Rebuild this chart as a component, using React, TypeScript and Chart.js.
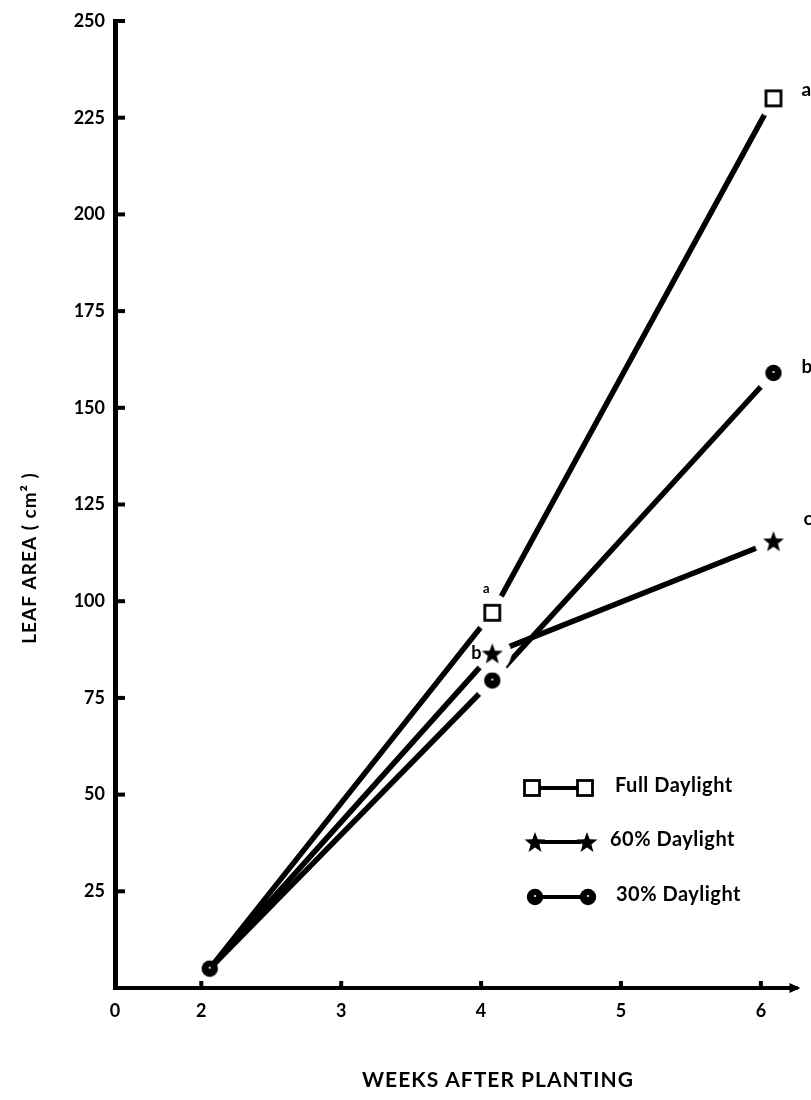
import React, { useEffect, useRef } from "react";
import { Chart, registerables } from "chart.js";

Chart.register(...registerables);

// ---------- data ----------
const weeks = [2.06, 4.08, 6.09];
const fullDaylight = [5, 97, 230];
const daylight60 = [5, 86.5, 115.5];
const daylight30 = [5, 79.5, 159];
const seriesNames = ["Full Daylight", "60% Daylight", "30% Daylight"];
const lettersAt6 = ["a", "c", "b"];
const lettersAt4 = ["a", "b", ""];
const xTickValues = [1.383, 2, 3, 4, 5, 6];
const xTickLabels = ["0", "2", "3", "4", "5", "6"];
const yTickValues = [0, 25, 50, 75, 100, 125, 150, 175, 200, 225, 250];
const yTickLabels = ["", "25", "50", "75", "100", "125", "150", "175", "200", "225", "250"];
const xTitle = "WEEKS AFTER PLANTING";
const yTitle = "LEAF AREA ( cm² )";

type Kind = "square" | "star" | "circle";

function makeMarker(kind: Kind, halo: boolean): HTMLCanvasElement {
  const size = 44;
  const c = size / 2;
  const cv = document.createElement("canvas");
  cv.width = size;
  cv.height = size;
  const ctx = cv.getContext("2d")!;
  if (halo) {
    ctx.fillStyle = "#fff";
    ctx.beginPath();
    ctx.arc(c, c, 19, 0, Math.PI * 2);
    ctx.fill();
  }
  ctx.fillStyle = "#000";
  ctx.strokeStyle = "#000";
  if (kind === "square") {
    ctx.fillStyle = "#fff";
    ctx.fillRect(c - 8, c - 8, 16, 16);
    ctx.lineWidth = 2.8;
    ctx.strokeRect(c - 7.5, c - 7.5, 15, 15);
  } else if (kind === "star") {
    const R = 11;
    const r = 4.6;
    ctx.beginPath();
    for (let i = 0; i < 10; i++) {
      const rad = i % 2 === 0 ? R : r;
      const a = -Math.PI / 2 + (i * Math.PI) / 5;
      const px = c + rad * Math.cos(a);
      const py = c + 1 + rad * Math.sin(a);
      if (i === 0) ctx.moveTo(px, py);
      else ctx.lineTo(px, py);
    }
    ctx.closePath();
    ctx.fill();
  } else {
    ctx.beginPath();
    ctx.arc(c, c, 8.2, 0, Math.PI * 2);
    ctx.fill();
    ctx.fillStyle = "#fff";
    ctx.beginPath();
    ctx.arc(c, c - 1, 1.1, 0, Math.PI * 2);
    ctx.fill();
  }
  return cv;
}

export default function App() {
  const ref = useRef<HTMLCanvasElement | null>(null);

  useEffect(() => {
    if (!ref.current) return;
    const kinds: Kind[] = ["square", "star", "circle"];
    const markers = kinds.map((k) => makeMarker(k, true));
    const startMarker = makeMarker("circle", false);
    const legendMarkers = kinds.map((k) => makeMarker(k, false));
    const seriesValues = [fullDaylight, daylight60, daylight30];

    const decor = {
      id: "decor",
      afterDraw(chart: any) {
        const ctx = chart.ctx as CanvasRenderingContext2D;
        const xs = chart.scales.x;
        const ys = chart.scales.y;
        const area = chart.chartArea;
        ctx.save();
        ctx.strokeStyle = "#000";
        ctx.fillStyle = "#000";
        // inner y ticks
        ctx.lineWidth = 4;
        yTickValues.forEach((v) => {
          if (v === 0) return;
          const py = ys.getPixelForValue(v);
          ctx.beginPath();
          ctx.moveTo(area.left, py);
          ctx.lineTo(area.left + 10, py);
          ctx.stroke();
        });
        // x ticks (upward)
        xTickValues.forEach((v, i) => {
          if (i === 0) return;
          const px = xs.getPixelForValue(v);
          ctx.beginPath();
          ctx.moveTo(px, area.bottom);
          ctx.lineTo(px, area.bottom - 7);
          ctx.stroke();
        });
        // arrow at end of x axis
        ctx.beginPath();
        ctx.moveTo(area.right + 3, area.bottom);
        ctx.lineTo(area.right - 8, area.bottom - 5);
        ctx.lineTo(area.right - 8, area.bottom + 5);
        ctx.closePath();
        ctx.fill();

        // point letters
        ctx.font = "bold 19px Lato";
        ctx.textAlign = "left";
        ctx.textBaseline = "middle";
        const offs6 = [
          [28, -8],
          [30, -22],
          [28, -6],
        ];
        seriesValues.forEach((vals, i) => {
          const px = xs.getPixelForValue(weeks[2]);
          const py = ys.getPixelForValue(vals[2]);
          ctx.fillText(lettersAt6[i], px + offs6[i][0], py + offs6[i][1]);
        });
        ctx.textAlign = "center";
        const offs4 = [
          [-6, -24],
          [-16, 0],
          [0, 0],
        ];
        seriesValues.forEach((vals, i) => {
          if (!lettersAt4[i]) return;
          const px = xs.getPixelForValue(weeks[1]);
          const py = ys.getPixelForValue(vals[1]);
          if (i === 0) ctx.font = "bold 13px Lato";
          else ctx.font = "bold 18px Lato";
          ctx.fillText(lettersAt4[i], px + offs4[i][0], py + offs4[i][1]);
        });

        // start point (shared by all series) on top of the converging lines
        const sx = xs.getPixelForValue(weeks[0]);
        const sy = ys.getPixelForValue(daylight30[0]);
        ctx.drawImage(startMarker, sx - startMarker.width / 2, sy - startMarker.height / 2);

        // legend
        const legendRows = [
          { y: 788, m1: 532, m2: 585, tx: 615 },
          { y: 842, m1: 535, m2: 587, tx: 610 },
          { y: 897, m1: 535, m2: 588, tx: 616 },
        ];
        legendRows.forEach((row, i) => {
          ctx.lineWidth = 4;
          ctx.beginPath();
          ctx.moveTo(row.m1 + 6, row.y);
          ctx.lineTo(row.m2 - 6, row.y);
          ctx.stroke();
          const mk = legendMarkers[i];
          ctx.drawImage(mk, row.m1 - mk.width / 2, row.y - mk.height / 2);
          ctx.drawImage(mk, row.m2 - mk.width / 2, row.y - mk.height / 2);
          ctx.font = "bold 20px Lato";
          ctx.textAlign = "left";
          ctx.textBaseline = "middle";
          (ctx as any).letterSpacing = "0.5px";
          ctx.fillText(seriesNames[i], row.tx, row.y - 2);
          (ctx as any).letterSpacing = "0px";
        });

        // axis titles
        ctx.font = "bold 21px Lato";
        ctx.textAlign = "center";
        ctx.textBaseline = "alphabetic";
        (ctx as any).letterSpacing = "1px";
        ctx.fillText(xTitle, 498, 1087);
        ctx.save();
        ctx.translate(30, 558);
        ctx.rotate(-Math.PI / 2);
        ctx.textBaseline = "middle";
        ctx.font = "bold 19px Lato";
        (ctx as any).letterSpacing = "1px";
        ctx.fillText(yTitle, 0, 0);
        ctx.restore();
        ctx.restore();
      },
    };

    const mkData = (vals: number[]) => weeks.map((w, i) => ({ x: w, y: vals[i] }));

    const chart = new Chart(ref.current, {
      type: "line",
      data: {
        datasets: [
          {
            label: seriesNames[0],
            data: mkData(fullDaylight),
            borderColor: "#000",
            borderWidth: 5.5,
            pointStyle: markers[0] as any,
            pointRadius: [0, 8, 8],
            tension: 0,
            order: 0,
          },
          {
            label: seriesNames[1],
            data: mkData(daylight60),
            borderColor: "#000",
            borderWidth: 5.5,
            pointStyle: markers[1] as any,
            pointRadius: [0, 8, 8],
            tension: 0,
            order: 1,
          },
          {
            label: seriesNames[2],
            data: mkData(daylight30),
            borderColor: "#000",
            borderWidth: 5.5,
            pointStyle: markers[2] as any,
            pointRadius: [0, 8, 8],
            tension: 0,
            order: 2,
          },
        ],
      },
      options: {
        responsive: false,
        animation: false,
        layout: { padding: { top: 21, right: 11, left: 0, bottom: 0 } },
        plugins: {
          legend: { display: false },
          tooltip: { enabled: false },
        },
        scales: {
          x: {
            type: "linear",
            min: xTickValues[0],
            max: 6.262,
            afterBuildTicks: (s: any) => {
              s.ticks = xTickValues.map((v) => ({ value: v }));
            },
            afterFit: (s: any) => {
              s.height = 112;
            },
            grid: { display: false, drawTicks: false },
            border: { display: true, color: "#000", width: 4 },
            ticks: {
              padding: 12,
              color: "#000",
              font: { family: "Lato", size: 18, weight: "bold" },
              callback: (_v: any, i: number) => xTickLabels[i],
              maxRotation: 0,
              autoSkip: false,
            },
          },
          y: {
            type: "linear",
            min: 0,
            max: 250,
            afterBuildTicks: (s: any) => {
              s.ticks = yTickValues.map((v) => ({ value: v }));
            },
            afterFit: (s: any) => {
              s.width = 115;
            },
            grid: { display: false, drawTicks: false },
            border: { display: true, color: "#000", width: 5 },
            ticks: {
              padding: 10,
              color: "#000",
              font: { family: "Lato", size: 18, weight: "bold" },
              callback: (_v: any, i: number) => yTickLabels[i],
              autoSkip: false,
            },
          },
        },
      },
      plugins: [decor],
    });
    return () => chart.destroy();
  }, []);

  return (
    <div style={{ position: "absolute", left: 0, top: 0, width: 811, height: 1100, overflow: "hidden", background: "#fff" }}>
      <canvas ref={ref} width={811} height={1100} />
    </div>
  );
}
